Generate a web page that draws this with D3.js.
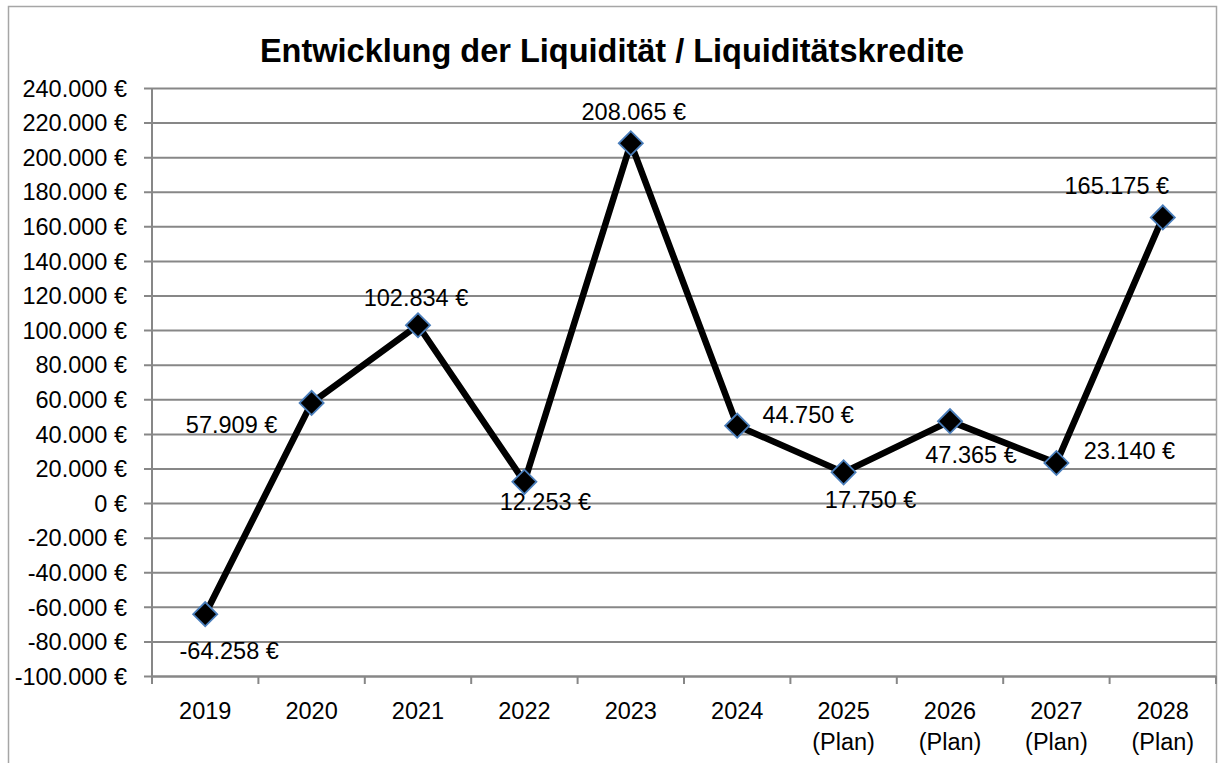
<!DOCTYPE html>
<html>
<head>
<meta charset="utf-8">
<script src="https://cdn.jsdelivr.net/npm/d3@7"></script>
<style>
  html, body { margin: 0; padding: 0; background: #fff; }
  svg { display: block; }
  text { font-family: "Liberation Sans", Arial, sans-serif; fill: #000; }
</style>
</head>
<body>
<svg id="chart" width="1218" height="763"></svg>
<script>
// ---- data ----
const title = "Entwicklung der Liquidität / Liquiditätskredite";
const categories = ["2019", "2020", "2021", "2022", "2023", "2024",
  "2025 (Plan)", "2026 (Plan)", "2027 (Plan)", "2028 (Plan)"];
const values = [-64258, 57909, 102834, 12253, 208065, 44750, 17750, 47365, 23140, 165175];
const yTicks = [-100000, -80000, -60000, -40000, -20000, 0, 20000, 40000, 60000, 80000,
  100000, 120000, 140000, 160000, 180000, 200000, 220000, 240000];
// label placement offsets (dx, dy of baseline) relative to each point
const labelOffsets = [[24, 45], [-80, 30], [-2, -19], [21, 28], [3, -23],
  [71, -3], [27, 36], [21, 42], [73, -4], [-46, -23]];

// ---- layout ----
const W = 1218, H = 763;
const plot = { left: 152, right: 1216, top: 88, bottom: 676 };
const gridColor = "#878787";
const fontSize = 23.5;

const locale = d3.formatLocale({
  decimal: ",", thousands: ".", grouping: [3], currency: ["", " €"], minus: "-"
});
const fmt = locale.format("$,.0f");

const svg = d3.select("#chart");

// outer chart border
svg.append("rect")
  .attr("x", 8.5).attr("y", 6.5)
  .attr("width", 1216 - 8).attr("height", H + 20)
  .attr("fill", "#fff").attr("stroke", "#a6a6a6").attr("stroke-width", 1.5);

const x = d3.scaleBand().domain(categories).range([plot.left, plot.right]);
const y = d3.scaleLinear().domain([-100000, 240000]).range([plot.bottom, plot.top]);

// gridlines + y axis
const yAxis = d3.axisLeft(y).tickValues(yTicks).tickFormat(fmt)
  .tickSize(-(plot.right - plot.left)).tickPadding(17);
const gy = svg.append("g").attr("transform", `translate(${plot.left},0)`).call(yAxis);
gy.select(".domain").remove();
gy.selectAll(".tick line").attr("stroke", gridColor).attr("stroke-width", 2)
  .attr("x1", -8);
gy.selectAll(".tick text").attr("font-size", fontSize)
  .attr("font-family", '"Liberation Sans", Arial, sans-serif').attr("fill", "#000")
  .attr("x", -25).attr("dy", "0.35em");

// y axis line
svg.append("line")
  .attr("x1", plot.left).attr("x2", plot.left)
  .attr("y1", plot.top).attr("y2", plot.bottom)
  .attr("stroke", gridColor).attr("stroke-width", 2);

// x axis
const xAxis = d3.axisBottom(x).tickSize(0).tickFormat("");
const gx = svg.append("g").attr("transform", `translate(0,${plot.bottom})`).call(xAxis);
gx.select(".domain").attr("stroke", gridColor).attr("stroke-width", 2);
gx.selectAll(".tick").remove();
// category boundary tick marks
const boundaries = categories.map(c => x(c)).concat([plot.right]);
svg.append("g").selectAll("line").data(boundaries).join("line")
  .attr("x1", d => d).attr("x2", d => d)
  .attr("y1", plot.bottom).attr("y2", plot.bottom + 8)
  .attr("stroke", gridColor).attr("stroke-width", 2);
// category labels
const xl = svg.append("g").selectAll("text").data(categories).join("text")
  .attr("text-anchor", "middle")
  .attr("font-size", fontSize)
  .attr("transform", d => `translate(${x(d) + x.bandwidth() / 2},719)`);
xl.each(function(d) {
  const parts = d.split(" ");
  d3.select(this).selectAll("tspan").data(parts).join("tspan")
    .attr("x", 0).attr("y", (p, i) => i * 31).text(p => p);
});

// line
const pts = categories.map((c, i) => ({ c, v: values[i], i }));
const line = d3.line().x(d => x(d.c) + x.bandwidth() / 2).y(d => y(d.v));
svg.append("path").datum(pts)
  .attr("d", line).attr("fill", "none")
  .attr("stroke", "#000").attr("stroke-width", 6.5).attr("stroke-linejoin", "round");

// markers
svg.append("g").selectAll("path").data(pts).join("path")
  .attr("d", d3.symbol().type(d3.symbolSquare).size(290))
  .attr("transform", d => `translate(${x(d.c) + x.bandwidth() / 2},${y(d.v)}) rotate(45)`)
  .attr("fill", "#000").attr("stroke", "#4a7ebb").attr("stroke-width", 1.8);

// data labels
svg.append("g").selectAll("text").data(pts).join("text")
  .attr("text-anchor", "middle")
  .attr("font-size", fontSize)
  .attr("x", d => x(d.c) + x.bandwidth() / 2 + labelOffsets[d.i][0])
  .attr("y", d => y(d.v) + labelOffsets[d.i][1])
  .text(d => fmt(d.v));

// title
svg.append("text")
  .attr("x", 612).attr("y", 62)
  .attr("text-anchor", "middle")
  .attr("font-size", 32.5).attr("font-weight", "bold")
  .text(title);
</script>
</body>
</html>
